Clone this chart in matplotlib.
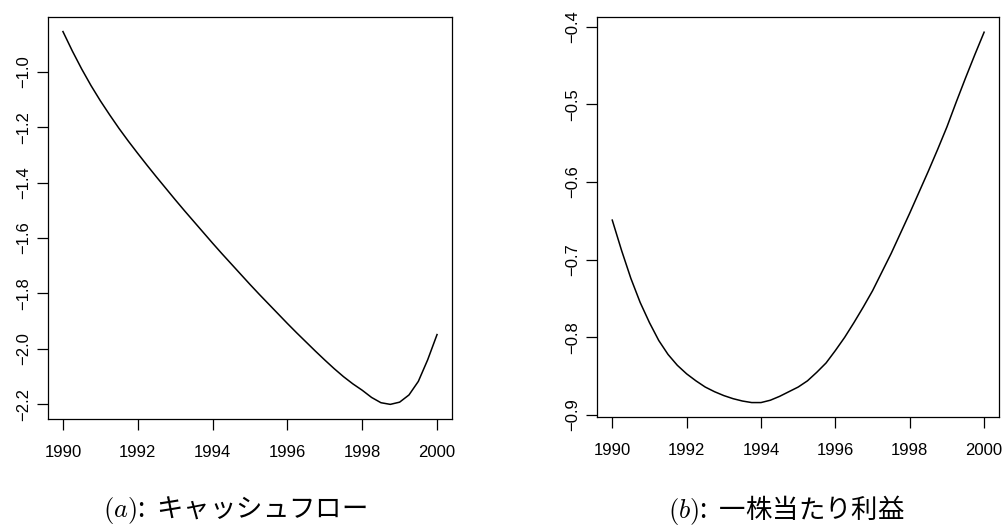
import numpy as np
import matplotlib
matplotlib.use("Agg")
import matplotlib.pyplot as plt

plt.rcParams['font.family'] = ['Liberation Sans', 'DejaVu Sans']
plt.rcParams['mathtext.fontset'] = 'cm'

# 年次（四半期刻み）
years = [1990.0, 1990.25, 1990.5, 1990.75, 1991.0, 1991.25, 1991.5, 1991.75,
         1992.0, 1992.25, 1992.5, 1992.75, 1993.0, 1993.25, 1993.5, 1993.75,
         1994.0, 1994.25, 1994.5, 1994.75, 1995.0, 1995.25, 1995.5, 1995.75,
         1996.0, 1996.25, 1996.5, 1996.75, 1997.0, 1997.25, 1997.5, 1997.75,
         1998.0, 1998.25, 1998.5, 1998.75, 1999.0, 1999.25, 1999.5, 1999.75, 2000.0]

# (a) キャッシュフロー
cash_flow = [-0.855, -0.925, -0.990, -1.050, -1.105, -1.156, -1.205, -1.251,
             -1.295, -1.338, -1.380, -1.421, -1.462, -1.502, -1.541, -1.580,
             -1.619, -1.657, -1.694, -1.731, -1.768, -1.804, -1.839, -1.874,
             -1.909, -1.943, -1.976, -2.009, -2.041, -2.072, -2.101, -2.127,
             -2.150, -2.176, -2.195, -2.201, -2.193, -2.167, -2.118, -2.040, -1.949]

# (b) 一株当たり利益
eps = [-0.649, -0.688, -0.724, -0.755, -0.781, -0.804, -0.822, -0.836,
       -0.847, -0.856, -0.864, -0.870, -0.875, -0.879, -0.882, -0.884,
       -0.884, -0.881, -0.876, -0.870, -0.864, -0.856, -0.845, -0.833,
       -0.817, -0.800, -0.781, -0.761, -0.740, -0.716, -0.692, -0.666,
       -0.640, -0.613, -0.586, -0.558, -0.529, -0.497, -0.466, -0.436, -0.407]

xticks = [1990, 1992, 1994, 1996, 1998, 2000]
yticks_a = [-1.0, -1.2, -1.4, -1.6, -1.8, -2.0, -2.2]
yticks_b = [-0.4, -0.5, -0.6, -0.7, -0.8, -0.9]

captions = ["$(a)$:  キャッシュフロー", "$(b)$:  一株当たり利益"]

fig = plt.figure(figsize=(10.04, 5.27), dpi=100)
ax1 = fig.add_axes([0.0478, 0.2044, 0.4024, 0.764])
ax2 = fig.add_axes([0.595, 0.208, 0.400, 0.759])

for ax, y, yt in [(ax1, cash_flow, yticks_a), (ax2, eps, yticks_b)]:
    ax.plot(years, y, color='black', lw=1.1)
    ax.margins(x=0.04, y=0.04)
    ax.set_xticks(xticks)
    ax.set_yticks(yt)
    ax.set_yticklabels([f"{v:.1f}".replace('-', '\u2212') for v in yt],
                       rotation=90, va='center')
    ax.tick_params(labelsize=12, length=7.7, width=0.9, direction='out')
    ax.tick_params(axis='x', pad=11)
    ax.tick_params(axis='y', pad=4.5)
    for s in ax.spines.values():
        s.set_linewidth(0.9)

fig.text(235 / 1004, 1 - 510 / 527, captions[0], ha='center', va='center',
         fontsize=19, family=['Noto Sans CJK JP', 'DejaVu Sans'])
fig.text(786 / 1004, 1 - 510 / 527, captions[1], ha='center', va='center',
         fontsize=19, family=['Noto Sans CJK JP', 'DejaVu Sans'])

fig.savefig("out.png", dpi=100)
